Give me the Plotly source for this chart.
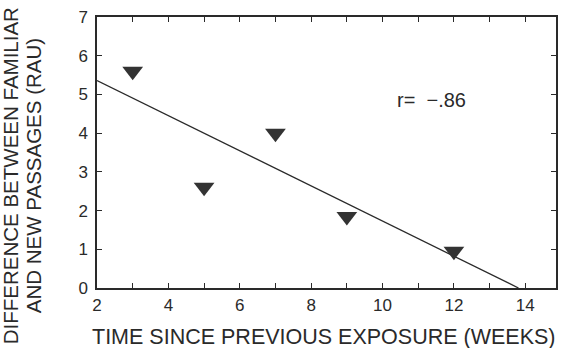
import numpy as np
import plotly.graph_objects as go

weeks = [3, 5, 7, 9, 12]
difference = [5.6, 2.6, 4.0, 1.85, 0.95]
x_ticks = [2, 4, 6, 8, 10, 12, 14]
y_ticks = [0, 1, 2, 3, 4, 5, 6, 7]
r_label = "r=  \u2212.86"
x_title = "TIME SINCE PREVIOUS EXPOSURE (WEEKS)"
y_title_1 = "DIFFERENCE BETWEEN FAMILIAR"
y_title_2 = "AND NEW PASSAGES (RAU)"

slope, intercept = np.polyfit(weeks, difference, 1)
x_start = 2.0
x_end = -intercept / slope
fit_x = [x_start, x_end]
fit_y = [slope * x_start + intercept, 0.0]

ink = "#2a2a2a"
font = "Liberation Sans, Arial, sans-serif"

fig = go.Figure()
fig.add_trace(go.Scatter(x=fit_x, y=fit_y, mode="lines",
                         line=dict(color=ink, width=1.3), showlegend=False))
fig.add_trace(go.Scatter(x=weeks, y=difference, mode="markers",
                         marker=dict(symbol="triangle-down", size=18, color="#333333",
                                     line=dict(width=0)),
                         showlegend=False))

fig.add_annotation(x=10.35, y=4.86, xref="x", yref="y", text=r_label,
                   showarrow=False, xanchor="left", yanchor="middle",
                   font=dict(family=font, size=20, color=ink))

# axis titles placed as annotations (paper coords)
fig.add_annotation(x=-0.188, y=0.415, xref="paper", yref="paper", text=y_title_1,
                   showarrow=False, textangle=-90, xanchor="center", yanchor="middle",
                   font=dict(family=font, size=20.5, color=ink))
fig.add_annotation(x=-0.138, y=0.415, xref="paper", yref="paper", text=y_title_2,
                   showarrow=False, textangle=-90, xanchor="center", yanchor="middle",
                   font=dict(family=font, size=20.5, color=ink))
fig.add_annotation(x=0.495, y=-0.128, xref="paper", yref="paper", text=x_title,
                   showarrow=False, xanchor="center", yanchor="top",
                   font=dict(family=font, size=21.5, color=ink))

fig.update_layout(
    width=561, height=348,
    margin=dict(l=97, r=5, t=17, b=60),
    paper_bgcolor="white", plot_bgcolor="white",
    font=dict(family=font, color=ink),
    xaxis=dict(range=[2, 14.86], tickvals=x_ticks, ticks="inside", ticklen=5,
               tickcolor=ink, showline=True, linecolor=ink, linewidth=1.5,
               mirror="ticks", showgrid=False, zeroline=False, automargin=False,
               minor=dict(dtick=1, ticks="inside", ticklen=5, tickcolor=ink),
               tickfont=dict(size=17, color=ink), ticklabelstandoff=1),
    yaxis=dict(range=[0, 7], tickvals=y_ticks, ticks="inside", ticklen=5,
               tickcolor=ink, showline=True, linecolor=ink, linewidth=1.5,
               mirror="ticks", showgrid=False, zeroline=False, automargin=False,
               tickfont=dict(size=17, color=ink), ticklabelstandoff=4),
)

fig.write_html("out.html", config={"displayModeBar": False},
               post_script="document.body.style.margin='0px';document.body.style.overflow='hidden';")
